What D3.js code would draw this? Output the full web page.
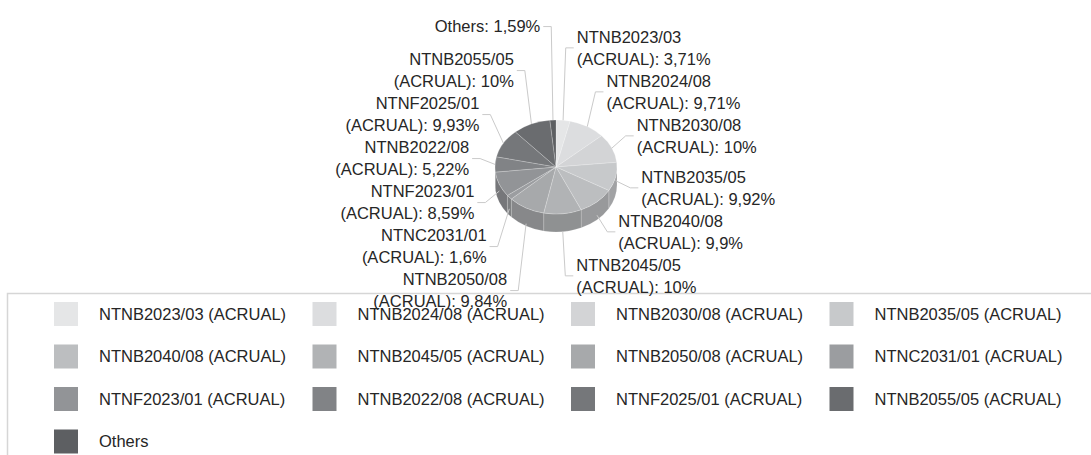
<!DOCTYPE html>
<html>
<head>
<meta charset="utf-8">
<script src="https://cdn.jsdelivr.net/npm/d3@7"></script>
<style>
html, body { margin: 0; padding: 0; background: #fff; }
svg { display: block; font-family: "Liberation Sans", Arial, sans-serif; }
</style>
</head>
<body>
<svg id="chart" width="1091" height="455"></svg>
<script>
// chart data
var categories = [
	'NTNB2023/03 (ACRUAL)', 'NTNB2024/08 (ACRUAL)', 'NTNB2030/08 (ACRUAL)', 'NTNB2035/05 (ACRUAL)',
	'NTNB2040/08 (ACRUAL)', 'NTNB2045/05 (ACRUAL)', 'NTNB2050/08 (ACRUAL)', 'NTNC2031/01 (ACRUAL)',
	'NTNF2023/01 (ACRUAL)', 'NTNB2022/08 (ACRUAL)', 'NTNF2025/01 (ACRUAL)', 'NTNB2055/05 (ACRUAL)',
	'Others'
];
var values = [3.71, 9.71, 10, 9.92, 9.9, 10, 9.84, 1.6, 8.59, 5.22, 9.93, 10, 1.59];
var colors = [
	'#e5e6e7', '#dcdddf', '#d3d4d6', '#c7c9cb', '#bcbec0', '#b1b3b5', '#a7a9ab',
	'#9b9da0', '#929497', '#818386', '#75777a', '#6a6c6f', '#5d5f62'
];

var Pie = {
	CX: 556, CY: 167, RX: 61, RY: 47, DEPTH: 18,
	LABEL_RX: 75, LABEL_RY: 100, LABEL_GAP: 44, LINE_H: 22,

	// point on the top ellipse, angle clockwise from 12 o'clock
	point: function(a, yoff) {
		return [Pie.CX + Pie.RX * Math.sin(a), Pie.CY - Pie.RY * Math.cos(a) + (yoff || 0)];
	},

	topPath: function(d) {
		var p0 = Pie.point(d.startAngle), p1 = Pie.point(d.endAngle);
		var large = (d.endAngle - d.startAngle) > Math.PI ? 1 : 0;
		return 'M' + Pie.CX + ',' + Pie.CY + 'L' + p0 + 'A' + Pie.RX + ',' + Pie.RY +
			' 0 ' + large + ' 1 ' + p1 + 'Z';
	},

	// side wall, only the front half (90deg..270deg) is visible
	sidePath: function(d) {
		var s = Math.max(d.startAngle, Math.PI / 2), e = Math.min(d.endAngle, 3 * Math.PI / 2);
		if (e <= s) { return null; }
		var p0 = Pie.point(s), p1 = Pie.point(e);
		var b0 = Pie.point(s, Pie.DEPTH), b1 = Pie.point(e, Pie.DEPTH);
		return 'M' + p0 + 'A' + Pie.RX + ',' + Pie.RY + ' 0 0 1 ' + p1 +
			'L' + b1 + 'A' + Pie.RX + ',' + Pie.RY + ' 0 0 0 ' + b0 + 'Z';
	},

	// spreads labels of one side so they keep a minimum vertical gap
	relax: function(items, gap) {
		items.sort(function(a, b) { return a.ideal - b.ideal; });
		var clusters = items.map(function(it) { return { items: [it], sum: it.ideal }; });
		var top = function(c) { return c.sum / c.items.length - (c.items.length - 1) * gap / 2; };
		var merged = true;
		while (merged) {
			merged = false;
			for (var i = 0; i < clusters.length - 1; i++) {
				var a = clusters[i], b = clusters[i + 1];
				if (top(b) - (top(a) + (a.items.length - 1) * gap) < gap) {
					clusters.splice(i, 2, { items: a.items.concat(b.items), sum: a.sum + b.sum });
					merged = true;
					break;
				}
			}
		}
		clusters.forEach(function(c) {
			var t = top(c);
			c.items.forEach(function(it, k) { it.y = t + k * gap; });
		});
	}
};

var fmt = function(v) { return String(v).replace('.', ',') + '%'; };

var svg = d3.select('#chart');

var data = categories.map(function(c, i) { return { name: c, value: values[i], color: colors[i] }; });
var arcs = d3.pie().sort(null).value(function(d) { return d.value; })(data);

// legend box
svg.append('rect')
	.attr('x', 7.5).attr('y', 293.5)
	.attr('width', 1100).attr('height', 200)
	.attr('fill', '#fff')
	.attr('stroke', '#d6d6d6')
	.attr('stroke-width', 1.5);

var legend = svg.append('g').selectAll('g')
	.data(data)
	.enter()
	.append('g')
	.attr('transform', function(d, i) {
		return 'translate(' + (54 + (i % 4) * 258.5) + ',' + (302 + Math.floor(i / 4) * 42.5) + ')';
	});
legend.append('rect')
	.attr('width', 24).attr('height', 24)
	.attr('fill', function(d) { return d.color; });
legend.append('text')
	.attr('x', 45).attr('y', 12).attr('dy', '0.35em')
	.attr('font-size', 16.5)
	.attr('fill', '#262626')
	.text(function(d) { return d.name; });

// pie sides then tops
var pieG = svg.append('g');
pieG.selectAll('path.side')
	.data(arcs.filter(function(d) { return Pie.sidePath(d) !== null; }))
	.enter()
	.append('path')
	.attr('class', 'side')
	.attr('d', Pie.sidePath)
	.attr('fill', function(d) { return d3.color(d.data.color).darker(0.6); })
	.attr('stroke', 'rgba(255,255,255,0.25)')
	.attr('stroke-width', 0.6);
pieG.selectAll('path.top')
	.data(arcs)
	.enter()
	.append('path')
	.attr('class', 'top')
	.attr('d', Pie.topPath)
	.attr('fill', function(d) { return d.data.color; })
	.attr('stroke', 'rgba(255,255,255,0.35)')
	.attr('stroke-width', 0.6);

// labels
var labels = arcs.map(function(d) {
	var mid = (d.startAngle + d.endAngle) / 2;
	var right = Math.sin(mid) >= 0;
	return {
		d: d, mid: mid, right: right,
		ideal: Pie.CY - Pie.LABEL_RY * Math.cos(mid),
		x: Pie.CX + Pie.LABEL_RX * Math.sin(mid) + (right ? 12 : -12)
	};
});
Pie.relax(labels.filter(function(l) { return l.right; }), Pie.LABEL_GAP);
Pie.relax(labels.filter(function(l) { return !l.right; }), Pie.LABEL_GAP);

var labelG = svg.append('g');
labels.forEach(function(l) {
	var start = Pie.point(l.mid, Pie.DEPTH * Math.max(0, -Math.cos(l.mid)));
	var dir = l.right ? -1 : 1;
	labelG.append('polyline')
		.attr('points', [start, [l.x + dir * 11, l.y], [l.x + dir * 3, l.y]].join(' '))
		.attr('fill', 'none')
		.attr('stroke', '#cacaca')
		.attr('stroke-width', 1);

	var name = l.d.data.name;
	var lines = name === 'Others' ? [name + ': ' + fmt(l.d.data.value)]
		: [name.split(' ')[0], name.split(' ')[1] + ': ' + fmt(l.d.data.value)];
	var t = labelG.append('text')
		.attr('font-size', 16.5)
		.attr('fill', '#262626')
		.attr('text-anchor', l.right ? 'start' : 'end');
	lines.forEach(function(s, k) {
		t.append('tspan')
			.attr('x', l.x)
			.attr('y', l.y + (k - (lines.length - 1) / 2) * Pie.LINE_H)
			.attr('dy', '0.35em')
			.text(s);
	});
});
</script>
</body>
</html>
